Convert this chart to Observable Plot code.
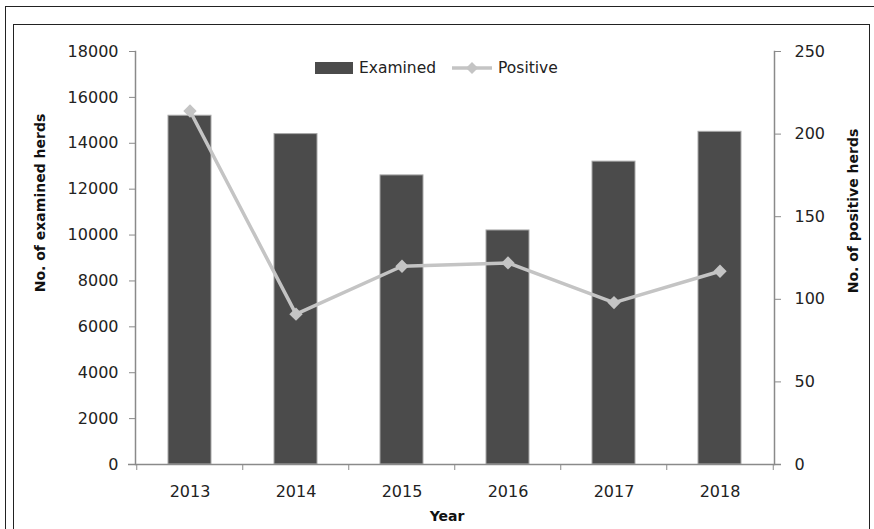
<!DOCTYPE html>
<html>
<head>
<meta charset="utf-8">
<script src="https://cdn.jsdelivr.net/npm/d3@7"></script>
<script src="https://cdn.jsdelivr.net/npm/@observablehq/plot@0.6"></script>
<style>
  html, body { margin: 0; padding: 0; background: #fff; overflow: hidden; }
  #wrap { position: relative; width: 874px; height: 529px; overflow: hidden; font-family: "DejaVu Sans", sans-serif; color: #222; }
  .box { position: absolute; border: 1.5px solid #222; box-sizing: border-box; }
  .title { position: absolute; font-weight: bold; font-size: 14px; white-space: nowrap; color: #111; }
  #legend { position: absolute; left: 315px; top: 59px; display: flex; align-items: center; font-size: 15.5px; color: #222; }
  #legend .item { display: flex; align-items: center; margin-right: 16px; }
  #legend svg { margin-right: 6px; }
  #chart { position: absolute; left: 0; top: 0; }
</style>
</head>
<body>
<div id="wrap">
  <div class="box" style="left:5px;top:6px;width:900px;height:600px;"></div>
  <div class="box" style="left:13px;top:24px;width:857px;height:600px;"></div>
  <div id="chart"></div>
  <div id="legend"></div>
  <div class="title" id="ylab" style="left:40px;top:203px;transform:translate(-50%,-50%) rotate(-90deg);"></div>
  <div class="title" id="y2lab" style="left:853px;top:211px;transform:translate(-50%,-50%) rotate(-90deg);"></div>
  <div class="title" id="xlab" style="left:447px;top:516px;transform:translate(-50%,-50%);"></div>
</div>
<script>
// ---- data ----
const years = ["2013", "2014", "2015", "2016", "2017", "2018"];
const examined = [15200, 14400, 12600, 10200, 13200, 14500];
const positive = [214, 91, 120, 122, 98, 117];
const leftTicks = [0, 2000, 4000, 6000, 8000, 10000, 12000, 14000, 16000, 18000];
const rightTicks = [0, 50, 100, 150, 200, 250];
const seriesNames = ["Examined", "Positive"];
const axisTitles = {y: "No. of examined herds", y2: "No. of positive herds", x: "Year"};

// ---- layout ----
const W = 874, H = 529, mL = 135, mR = 100, mT = 51, mB = 65;
const step = (W - mL - mR) / years.length;
const barColor = "#4b4b4b", lineColor = "#c4c4c4", axisColor = "#8a8a8a";

const table = years.map((year, i) => ({year, examined: examined[i], positive: positive[i]}));
const y2 = d3.scaleLinear([0, 250], [0, 18000]);

const chart = Plot.plot({
  width: W, height: H,
  marginLeft: mL, marginRight: mR, marginTop: mT, marginBottom: mB,
  style: {fontFamily: "DejaVu Sans, sans-serif", fontSize: "16px", color: "#222", background: "transparent"},
  x: {domain: years, paddingInner: 0.59, paddingOuter: 0.295, label: null},
  y: {domain: [0, 18000], label: null},
  marks: [
    Plot.barY(table, {x: "year", y: "examined", fill: barColor, stroke: "#a8a8a8", strokeWidth: 1}),
    Plot.frame({anchor: "left", stroke: axisColor, strokeWidth: 1.5}),
    Plot.frame({anchor: "right", stroke: axisColor, strokeWidth: 1.5}),
    Plot.ruleY([0], {stroke: axisColor, strokeWidth: 1.5, insetLeft: -7, insetRight: -7}),
    Plot.axisY(leftTicks, {anchor: "left", tickSize: 6, tickPadding: 11, tickFormat: d => String(d), stroke: axisColor, fill: "#222", label: null, fontSize: 16}),
    Plot.axisY(rightTicks, {anchor: "right", y: y2, tickFormat: d => String(d), tickSize: 6, tickPadding: 14, stroke: axisColor, fill: "#222", label: null, fontSize: 16}),
    Plot.axisX({tickSize: 6, tickFormat: () => "", stroke: axisColor, dx: -step / 2, label: null}),
    Plot.axisX([years[years.length - 1]], {tickSize: 6, tickFormat: () => "", stroke: axisColor, dx: step / 2, label: null}),
    Plot.axisX({tickSize: 0, tickPadding: 21, fill: "#222", label: null, fontSize: 16}),
    Plot.line(table, {x: "year", y: d => y2(d.positive), stroke: lineColor, strokeWidth: 3.5}),
    Plot.dot(table, {x: "year", y: d => y2(d.positive), symbol: "diamond2", r: 6, fill: lineColor, stroke: "none"})
  ]
});
document.getElementById("chart").appendChild(chart);

// ---- titles ----
document.getElementById("ylab").textContent = axisTitles.y;
document.getElementById("y2lab").textContent = axisTitles.y2;
document.getElementById("xlab").textContent = axisTitles.x;

// ---- legend ----
const legend = document.getElementById("legend");
legend.innerHTML = `
  <div class="item"><svg width="38" height="12"><rect x="0" y="0" width="38" height="12" fill="${barColor}"/></svg><span>${seriesNames[0]}</span></div>
  <div class="item"><svg width="40" height="14"><line x1="0" y1="7" x2="40" y2="7" stroke="${lineColor}" stroke-width="3.5"/><path d="M20,1 L26,7 L20,13 L14,7 Z" fill="${lineColor}"/></svg><span>${seriesNames[1]}</span></div>`;
</script>
</body>
</html>
